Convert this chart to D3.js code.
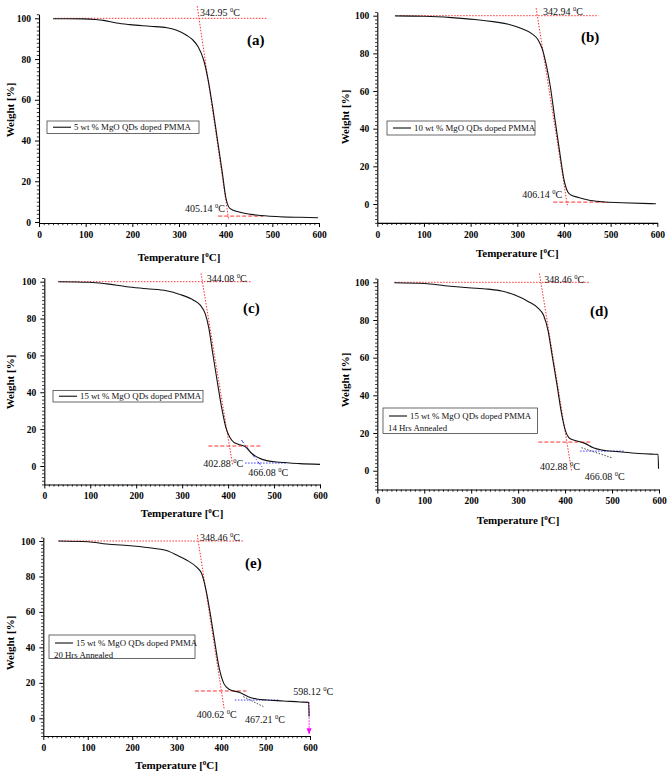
<!DOCTYPE html>
<html><head><meta charset="utf-8">
<script src="https://cdnjs.cloudflare.com/ajax/libs/d3/7.8.5/d3.min.js"></script>
<style>body{margin:0;background:#fff}svg{display:block}</style>
</head><body><svg id="chart" width="669" height="778"></svg>
<script>
// ---------------- DATA ----------------
const xTicks = [0, 100, 200, 300, 400, 500, 600];
const yTicks = [0, 20, 40, 60, 80, 100];
const panelTitles = ["(a)", "(b)", "(c)", "(d)", "(e)"];
const legendA = ["5 wt % MgO QDs doped PMMA"];
const legendB = ["10 wt % MgO QDs doped PMMA"];
const legendC = ["15 wt % MgO QDs doped PMMA"];
const legendD = ["15 wt % MgO QDs doped PMMA", "14 Hrs Annealed"];
const legendE = ["15 wt % MgO QDs doped PMMA", "20 Hrs Annealed"];

const tempA   = [30, 60, 95, 120, 138, 166, 195, 238, 274, 295, 316, 329, 341, 353, 362.5, 372, 382.5, 393, 400, 409, 427, 466, 516, 559, 598];
const weightA = [99.8, 99.8, 99.7, 99.4, 99, 97.7, 96.9, 96.1, 95.4, 94.1, 91.7, 89.5, 86, 79.4, 69.6, 56.5, 40.2, 23.9, 12.4, 6.7, 5.0, 3.4, 2.6, 2.3, 2.1];

const tempB   = [38, 102, 159, 209, 252, 281, 309, 331, 345, 354, 362, 371, 380, 390, 400, 408, 415, 431, 452, 481, 524, 597];
const weightB = [99.9, 99.7, 99, 98, 96.7, 95.5, 93.2, 90.5, 87, 82, 74, 62, 46, 29, 13, 6.5, 4.8, 3.5, 2.1, 1.2, 0.7, 0.1];

const tempC   = [30, 99, 136, 179, 223, 266, 295, 324, 339, 350, 358, 366, 375, 385, 395, 404, 412, 422, 437, 451, 466, 484, 513, 556, 600];
const weightC = [100, 99.7, 98.8, 97.3, 96.2, 95.1, 93.1, 90.1, 87.4, 82.8, 75, 62, 48, 33, 21, 15.5, 13, 11.8, 10.5, 6.9, 4.5, 2.9, 2, 1.3, 0.9];

const tempD   = [36, 101, 144, 194, 236, 265, 293, 322, 343, 354, 364, 372.5, 382.5, 392, 401, 408, 415, 425, 442, 460, 478, 513, 549, 584, 598, 599];
const weightD = [99.8, 99.4, 98.2, 97.1, 96.4, 95.4, 93.2, 89.7, 86.2, 82.6, 74, 61, 46, 31, 21, 17.5, 16.5, 15.8, 14.5, 12.2, 11, 10.1, 9.3, 8.8, 8.7, 1];

const tempE   = [34, 101, 142, 202, 247, 277, 300, 322, 345, 356, 366, 375.5, 385, 395, 406, 418, 442, 461, 480, 502, 540, 577, 597, 598];
const weightE = [100, 99.6, 98.3, 97.2, 95.9, 94.6, 92.1, 89.3, 85.2, 81.8, 72.4, 59.2, 44.2, 29.1, 19.7, 16.4, 14.5, 12.2, 10.9, 10.3, 9.8, 9.2, 9.0, 1];

// annotation segments: [kind, T1, W1, T2, W2]
const guidesA = [["redDot", 34, 100, 488, 100], ["redDot", 339, 106, 406.5, 1], ["redDash", 384, 2.9, 481, 2.9]];
const guidesB = [["redDot", 49, 100, 474, 100], ["redDot", 340.4, 104, 407.4, -1], ["redDash", 377, 1.0, 495, 1.0]];
const guidesC = [["redDot", 34, 100, 451, 100], ["redDot", 341.1, 104.5, 409.8, 0.5], ["redDash", 357, 10.85, 473, 10.85],
                 ["blueDashDot", 429, 14.1, 477, -1.6], ["blueDot", 437, 1.6, 527, 1.6]];
const guidesD = [["redDot", 38, 100, 453, 100], ["redDot", 345.4, 104.7, 414, -0.5], ["redDash", 343, 15.2, 456, 15.2],
                 ["blueDot", 432, 10.4, 527, 10.4], ["blackDot", 435, 12.2, 499, 6.9]];
const guidesE = [["redDot", 34, 100, 450, 100], ["redDot", 346.4, 103.4, 406.7, 5.6], ["redDash", 341, 15.4, 457, 15.4],
                 ["blueDot", 431, 10.3, 529, 10.3], ["blackDot", 450, 12.2, 495, 6.6], ["magentaArrow", 598, 9, 598, -9]];

// temperature labels: [value, T, W]
const onsetA = [["342.95", 345, 101.2], ["405.14", 313, 5.1]];
const onsetB = [["342.94", 355, 100.3], ["406.14", 310.7, 3.3]];
const onsetC = [["344.08", 353.4, 99.8], ["402.88", 346, -0.8], ["466.08", 444, -5.4]];
const onsetD = [["348.46", 355.7, 99.4], ["402.88", 346.5, 0.4], ["466.08", 442, -5.2]];
const onsetE = [["348.46", 352.5, 100], ["400.62", 345, -0.1], ["467.21", 453.8, -2.9], ["598.12", 562.5, 13.1]];

// ---------------- LAYOUT ----------------
const panels = [
  {temp: tempA, weight: weightA, guides: guidesA, labels: onsetA, legend: legendA, title: panelTitles[0],
   left: 39, right: 319, y0: 222, y100: 18.3, ymin: -0.5, ymax: 102,
   yTitle: [10, 110], xTitleY: 257, titlePos: [247, 45], leg: {x: 47, y: 121, w: 152, h: 12.5}},
  {temp: tempB, weight: weightB, guides: guidesB, labels: onsetB, legend: legendB, title: panelTitles[1],
   left: 377.3, right: 657.3, y0: 204, y100: 15.7, ymin: -10, ymax: 102,
   yTitle: [345, 117], xTitleY: 253, titlePos: [581, 42], leg: {x: 387, y: 121, w: 148, h: 14}},
  {temp: tempC, weight: weightC, guides: guidesC, labels: onsetC, legend: legendC, title: panelTitles[2],
   left: 44.3, right: 320, y0: 466, y100: 281.7, ymin: -10, ymax: 102,
   yTitle: [10, 382], xTitleY: 513, titlePos: [243, 312.5], leg: {x: 53, y: 390.5, w: 150, h: 11.5}},
  {temp: tempD, weight: weightD, guides: guidesD, labels: onsetD, legend: legendD, title: panelTitles[3],
   left: 377.3, right: 659, y0: 470.7, y100: 282.3, ymin: -10, ymax: 102,
   yTitle: [345, 380], xTitleY: 520, titlePos: [590, 316], leg: {x: 383, y: 408, w: 154.5, h: 25.5}},
  {temp: tempE, weight: weightE, guides: guidesE, labels: onsetE, legend: legendE, title: panelTitles[4],
   left: 43.3, right: 310, y0: 718.3, y100: 541, ymin: -10, ymax: 102,
   yTitle: [10, 643], xTitleY: 765, titlePos: [245, 567.5], leg: {x: 49, y: 635, w: 146, h: 23.5}}
];

const guideStyle = {
  redDot:      {stroke: "#ff3030", dash: "1.5,1.5"},
  redDash:     {stroke: "#ff3030", dash: "4,2"},
  blueDot:     {stroke: "#3a3aff", dash: "1.5,1.5"},
  blueDashDot: {stroke: "#3a3aff", dash: "4,2,1,2"},
  blackDot:    {stroke: "#444",    dash: "1.5,1.5"},
  magentaArrow:{stroke: "#ff00ff", dash: "1.5,1.5"}
};

const FONT = "'Liberation Serif','Times New Roman',serif";
const svg = d3.select("#chart");
svg.append("rect").attr("width", 669).attr("height", 778).attr("fill", "#fff");

panels.forEach(p => {
  const g = svg.append("g");
  const x = d3.scaleLinear().domain([0, 600]).range([p.left, p.right]);
  const y = d3.scaleLinear().domain([0, 100]).range([p.y0, p.y100]);
  const yAx = d3.scaleLinear().domain([p.ymin, p.ymax]).range([y(p.ymin), y(p.ymax)]);
  const xAxisY = y(p.ymin);

  // minor ticks
  const xMinor = d3.range(0, 601, 10).filter(v => v % 100 !== 0);
  const yMinor = d3.range(Math.ceil(p.ymin / 2) * 2, p.ymax + 0.01, 2).filter(v => v % 20 !== 0);
  g.append("g").attr("transform", `translate(0,${xAxisY})`)
    .call(d3.axisBottom(x).tickValues(xMinor).tickSize(2.2).tickSizeOuter(0).tickFormat(""))
    .call(a => a.select(".domain").remove())
    .selectAll("line").attr("stroke", "#000").attr("stroke-width", 0.8);
  g.append("g").attr("transform", `translate(${p.left},0)`)
    .call(d3.axisLeft(yAx).tickValues(yMinor).tickSize(2.2).tickSizeOuter(0).tickFormat(""))
    .call(a => a.select(".domain").remove())
    .selectAll("line").attr("stroke", "#000").attr("stroke-width", 0.8);

  // major axes
  const xa = g.append("g").attr("transform", `translate(0,${xAxisY})`)
    .call(d3.axisBottom(x).tickValues(xTicks).tickSize(4).tickPadding(4).tickSizeOuter(0));
  const ya = g.append("g").attr("transform", `translate(${p.left},0)`)
    .call(d3.axisLeft(yAx).tickValues(yTicks).tickSize(4).tickPadding(4).tickSizeOuter(0));
  [xa, ya].forEach(a => {
    a.select(".domain").attr("stroke", "#000").attr("stroke-width", 1.1);
    a.selectAll(".tick line").attr("stroke", "#000").attr("stroke-width", 1);
    a.selectAll("text").attr("font-family", FONT).attr("font-weight", "bold")
      .attr("font-size", 9.5).attr("fill", "#000");
  });

  // guides
  p.guides.forEach(([kind, t1, w1, t2, w2]) => {
    const st = guideStyle[kind];
    g.append("line").attr("x1", x(t1)).attr("y1", y(w1)).attr("x2", x(t2)).attr("y2", y(w2))
      .attr("stroke", st.stroke).attr("stroke-width", 1).attr("stroke-dasharray", st.dash);
    if (kind === "magentaArrow") {
      const tx = x(t2), ty = y(w2);
      g.append("path").attr("d", `M${tx - 2.5},${ty - 6}L${tx + 2.5},${ty - 6}L${tx},${ty}Z`)
        .attr("fill", "#ff00ff");
    }
  });

  // curve
  const pts = p.temp.map((t, i) => [t, p.weight[i]]);
  g.append("path").datum(pts)
    .attr("d", d3.line().x(d => x(d[0])).y(d => y(d[1])).curve(d3.curveMonotoneX))
    .attr("fill", "none").attr("stroke", "#111").attr("stroke-width", 1.1);

  // temperature labels
  p.labels.forEach(([val, t, w]) => {
    const tx = g.append("text").attr("x", x(t)).attr("y", y(w))
      .attr("font-family", FONT).attr("font-size", 10).attr("fill", "#111");
    tx.append("tspan").text(val + " ");
    tx.append("tspan").attr("font-size", 6.5).attr("dy", -4).text("0");
    tx.append("tspan").attr("dy", 4).text("C");
  });

  // panel title
  g.append("text").attr("x", p.titlePos[0]).attr("y", p.titlePos[1])
    .attr("font-family", FONT).attr("font-weight", "bold").attr("font-size", 15).text(p.title);

  // legend
  const L = p.leg;
  g.append("rect").attr("x", L.x).attr("y", L.y).attr("width", L.w).attr("height", L.h)
    .attr("fill", "#fff").attr("stroke", "#444").attr("stroke-width", 0.8);
  const firstY = p.legend.length > 1 ? L.y + 8 : L.y + L.h / 2;
  g.append("line").attr("x1", L.x + 6).attr("x2", L.x + 24).attr("y1", firstY).attr("y2", firstY)
    .attr("stroke", "#222").attr("stroke-width", 1.2);
  p.legend.forEach((txt, i) => {
    g.append("text").attr("x", i === 0 ? L.x + 27 : L.x + 5).attr("y", firstY + 3.1 + i * 12)
      .attr("font-family", FONT).attr("font-size", 8.8).attr("fill", "#111").text(txt);
  });

  // axis titles
  const xt = g.append("text").attr("x", (p.left + p.right) / 2).attr("y", p.xTitleY + 4)
    .attr("text-anchor", "middle").attr("font-family", FONT).attr("font-weight", "bold").attr("font-size", 11);
  xt.append("tspan").text("Temperature [");
  xt.append("tspan").attr("font-size", 7).attr("dy", -4).text("0");
  xt.append("tspan").attr("dy", 4).text("C]");
  g.append("text").attr("transform", `translate(${p.yTitle[0] + 4},${p.yTitle[1]}) rotate(-90)`)
    .attr("text-anchor", "middle").attr("font-family", FONT).attr("font-weight", "bold").attr("font-size", 11)
    .text("Weight [%]");
});
</script></body></html>
